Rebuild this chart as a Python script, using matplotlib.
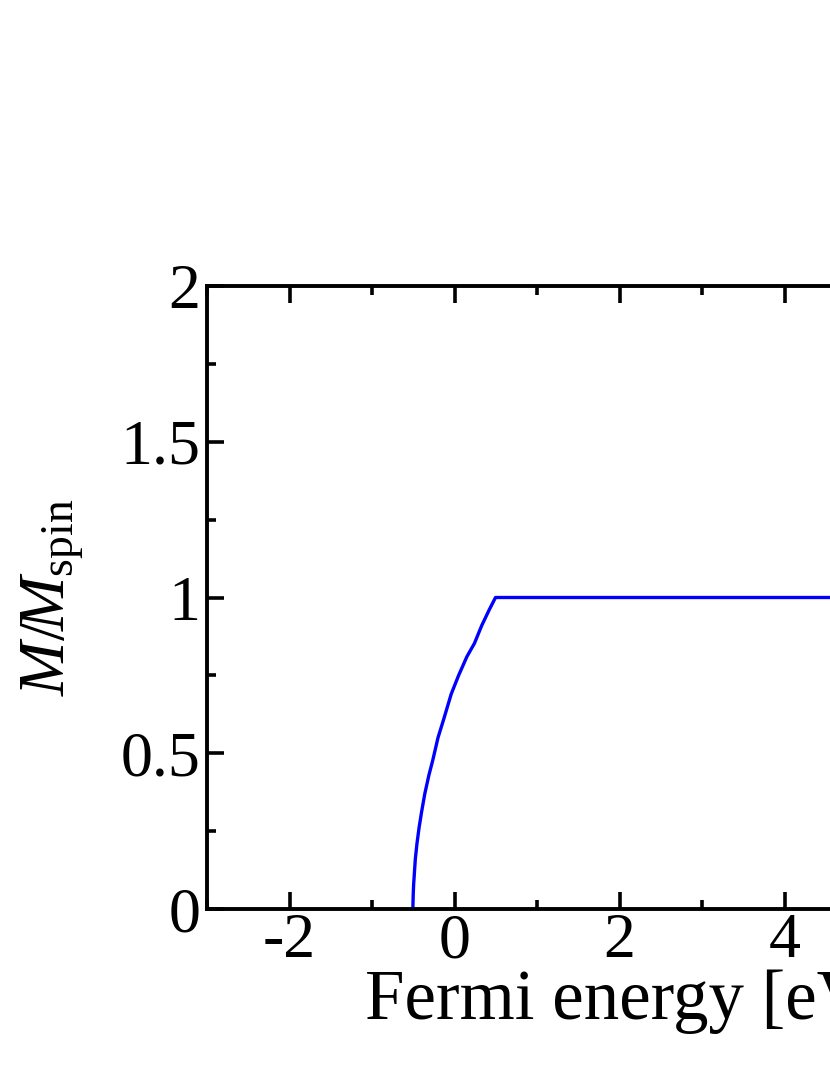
import matplotlib
matplotlib.use("Agg")
import matplotlib.pyplot as plt
from matplotlib.ticker import MultipleLocator

plt.rcParams['font.family'] = ['Liberation Serif', 'DejaVu Serif']
plt.rcParams['mathtext.fontset'] = 'custom'
plt.rcParams['mathtext.rm'] = 'Liberation Serif'
plt.rcParams['mathtext.it'] = 'Liberation Serif:italic'
plt.rcParams['mathtext.bf'] = 'Liberation Serif:bold'
plt.rcParams['axes.unicode_minus'] = False

# Data
fermi_energy = [-0.505, -0.500, -0.495, -0.489, -0.475, -0.455, -0.430, -0.400, -0.360,
                -0.310, -0.263, -0.200, -0.130, -0.040, 0.050, 0.150, 0.242, 0.330,
                0.420, 0.497,
                1.0, 2.0, 3.0, 4.0, 5.0, 6.0, 7.0]
magnetization = [0.0, 0.05, 0.08, 0.104, 0.16, 0.21, 0.26, 0.31, 0.37,
                 0.43, 0.478, 0.55, 0.61, 0.69, 0.75, 0.81, 0.853, 0.91,
                 0.96, 1.0,
                 1.0, 1.0, 1.0, 1.0, 1.0, 1.0, 1.0]

fig = plt.figure(figsize=(8.3, 10.75), dpi=100)
ax = fig.add_axes([207/830, 166/1075, 825/830, 623/1075])
ax.plot(fermi_energy, magnetization, color='#0000ff', lw=2.4)

ax.set_xlim(-3, 7)
ax.set_ylim(0, 2)
ax.xaxis.set_major_locator(MultipleLocator(2))
ax.xaxis.set_minor_locator(MultipleLocator(1))
ax.yaxis.set_minor_locator(MultipleLocator(0.25))
ax.set_yticks([0, 0.5, 1, 1.5, 2])
ax.set_yticklabels(['0', '0.5', '1', '1.5', '2'])

for s in ax.spines.values():
    s.set_linewidth(2.8)
ax.tick_params(which='both', direction='in', top=True, right=True, width=2.6)
ax.tick_params(which='major', length=12, labelsize=46)
ax.tick_params(which='minor', length=6.5)
ax.tick_params(axis='x', which='major', pad=3)
ax.tick_params(axis='y', which='major', pad=5)

ax.set_xlabel('Fermi energy [eV]', fontsize=51)
ax.xaxis.set_label_coords(0.510, -0.096)
ax.set_ylabel(r'$M/\!M_{\mathrm{spin}}$', fontsize=47)
ax.yaxis.set_label_coords(-0.147, 0.5)

fig.savefig('out.png', dpi=100)
